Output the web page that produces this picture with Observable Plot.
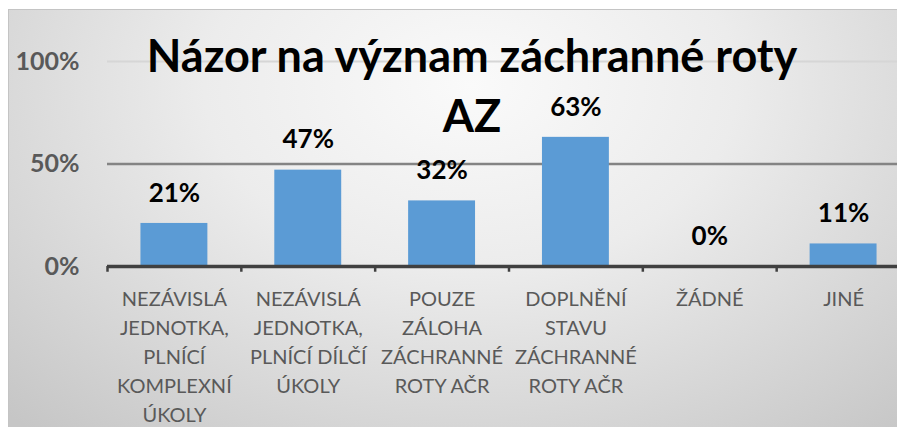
<!DOCTYPE html>
<html>
<head>
<meta charset="utf-8">
<script src="https://cdn.jsdelivr.net/npm/d3@7"></script>
<script src="https://cdn.jsdelivr.net/npm/@observablehq/plot@0.6"></script>
<style>
  html, body { margin: 0; padding: 0; background: #ffffff; }
  body { width: 897px; height: 427px; position: relative; overflow: hidden; font-family: Lato, "Open Sans", sans-serif; }
  #panel {
    position: absolute; left: 8px; top: 9px; width: 888px; height: 417px;
    border-top: 1px solid #c4c4c4; border-left: 1px solid #c4c4c4;
    overflow: hidden;
    background: radial-gradient(ellipse 75% 110% at 52% 18%, #fafafa 0%, #ececec 40%, #d9d9d9 70%, #c6c6c6 100%);
  }
  #title {
    position: absolute; left: 0; top: 25px; width: 944px; text-align: center;
    font-family: Lato, sans-serif; font-weight: 700; font-size: 45px; line-height: 60px; color: #000;
    pointer-events: none;
  }
</style>
</head>
<body>
<div id="panel"></div>
<div id="title">Názor na význam záchranné roty<br>AZ</div>
<script>
const categories = [
  "NEZÁVISLÁ\nJEDNOTKA,\nPLNÍCÍ\nKOMPLEXNÍ\nÚKOLY",
  "NEZÁVISLÁ\nJEDNOTKA,\nPLNÍCÍ DÍLČÍ\nÚKOLY",
  "POUZE\nZÁLOHA\nZÁCHRANNÉ\nROTY AČR",
  "DOPLNĚNÍ\nSTAVU\nZÁCHRANNÉ\nROTY AČR",
  "ŽÁDNÉ",
  "JINÉ"
];
const values = [0.21, 0.47, 0.32, 0.63, 0.00, 0.11];
const yTicks = [0, 0.5, 1];
const gridLight = [1];
const gridDark = [0.5];

const data = categories.map((c, i) => ({category: c, value: values[i]}));

const width = 910, height = 417;
const marginLeft = 98, marginRight = 9, marginTop = 51, marginBottom = 161;
const step = (width - marginLeft - marginRight) / categories.length;

const chart = Plot.plot({
  width, height, marginLeft, marginRight, marginTop, marginBottom,
  style: {fontFamily: "Lato, sans-serif", background: "transparent", overflow: "visible"},
  x: {domain: categories, paddingInner: 0.5, paddingOuter: 0.25, round: false},
  y: {domain: [0, 1]},
  marks: [
    Plot.ruleY(gridLight, {stroke: "#d6d6d6", strokeWidth: 2}),
    Plot.ruleY(gridDark, {stroke: "#848484", strokeWidth: 2.5}),
    Plot.barY(data, {x: "category", y: "value", fill: "#5b9bd5"}),
    Plot.ruleY([0], {stroke: "#404040", strokeWidth: 3.5}),
    Plot.ruleX(categories, {x: d => d, dx: -step / 2, y1: 0, y2: -0.028, stroke: "#404040", strokeWidth: 2.5}),
    Plot.text(data, {
      x: "category", y: "value", text: d => d3.format(".0%")(d.value),
      dy: -30, lineAnchor: "middle", fontSize: 26, fontWeight: "bold", fill: "#000"
    }),
    Plot.axisY({
      ticks: yTicks, tickFormat: d3.format(".0%"), tickSize: 0, tickPadding: 28,
      fontSize: 25, fontWeight: "bold", fill: "#595959", label: null
    }),
    Plot.axisX({
      tickSize: 0, tickPadding: 19, fontSize: 20, lineHeight: 1.45,
      fill: "#595959", label: null, lineAnchor: "top"
    })
  ]
});
chart.style.maxWidth = "none";
chart.style.display = "block";
document.getElementById("panel").appendChild(chart);
</script>
</body>
</html>
